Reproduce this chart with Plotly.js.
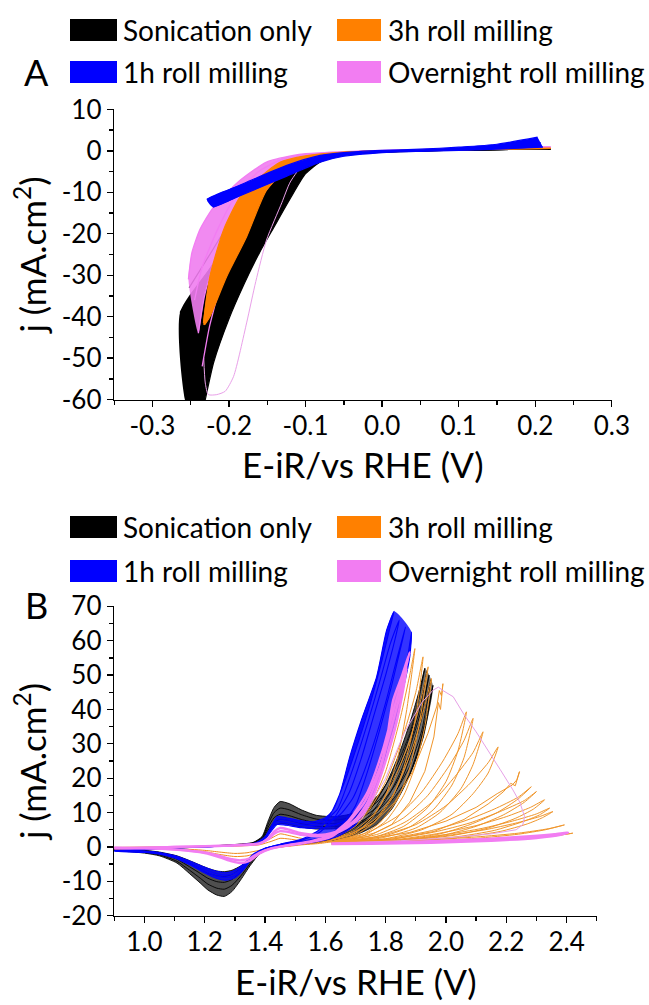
<!DOCTYPE html>
<html><head><meta charset="utf-8">
<script src="https://cdn.plot.ly/plotly-3.0.1.min.js"></script>
<style>html,body{margin:0;padding:0;background:#fff}</style>
</head><body><div id="chart" style="width:649px;height:1005px"></div>
<script>
// ---------------- Panel A : HER polarisation (E-iR vs RHE, j) ----------------
const seriesNames = ['Sonication only', '3h roll milling', '1h roll milling', 'Overnight roll milling'];

const aXTicks = [-0.3, -0.2, -0.1, 0.0, 0.1, 0.2, 0.3];
const aXLabels = ['-0.3', '-0.2', '-0.1', '0.0', '0.1', '0.2', '0.3'];
const aYTicks = [-60, -50, -40, -30, -20, -10, 0, 10];
const aYLabels = ['-60', '-50', '-40', '-30', '-20', '-10', '0', '10'];

// Sonication only (black) cycles
const herSonE = [
  [0.22,0.10,0.00,-0.05,-0.08,-0.10,-0.12,-0.14,-0.16,-0.18,-0.20,-0.22,-0.252],
  [0.22,0.10,0.00,-0.05,-0.08,-0.10,-0.12,-0.14,-0.16,-0.18,-0.20,-0.22,-0.264],
  [0.22,0.10,0.00,-0.05,-0.08,-0.10,-0.12,-0.14,-0.16,-0.18,-0.20,-0.22,-0.258],
  [0.22,0.10,0.00,-0.05,-0.08,-0.10,-0.12,-0.14,-0.16,-0.18,-0.20,-0.22,-0.255],
  [0.22,0.10,0.00,-0.05,-0.08,-0.10,-0.12,-0.14,-0.16,-0.18,-0.20,-0.22,-0.247],
  [0.22,0.10,0.00,-0.05,-0.08,-0.10,-0.12,-0.14,-0.16,-0.18,-0.20,-0.22,-0.231,-0.238]
];
const herSonJ = [
  [0.5,0.2,-0.1,-0.5,-1.2,-2.0,-3.5,-5.5,-8.5,-12.5,-17.5,-23.5,-33],
  [0.5,0.2,-0.1,-0.6,-1.4,-2.4,-4.2,-6.8,-10.5,-15,-20.5,-27,-39],
  [0.5,0.2,-0.15,-0.7,-1.7,-3.0,-5.5,-9,-13.5,-19,-25.5,-33,-48],
  [0.5,0.2,-0.2,-0.8,-2.0,-3.8,-7,-11.5,-17,-23.5,-31,-40,-62],
  [0.5,0.2,-0.25,-0.9,-2.3,-4.6,-8.5,-14,-20.5,-27.5,-36,-46,-64],
  [0.5,0.2,-0.3,-1.0,-2.6,-5.5,-11.5,-18,-24.5,-32,-40.5,-51,-60,-66]
];
// Overnight roll milling (pink) cycles
const herOvnE = [
  [0.22,0.10,0.00,-0.05,-0.10,-0.116,-0.151,-0.1855,-0.22,-0.238,-0.2486,-0.253],
  [0.22,0.10,0.00,-0.05,-0.10,-0.13,-0.16,-0.19,-0.215,-0.235,-0.245],
  [0.22,0.10,0.00,-0.05,-0.10,-0.13,-0.16,-0.19,-0.215,-0.232,-0.24],
  [0.22,0.10,0.00,-0.05,-0.10,-0.13,-0.16,-0.19,-0.21,-0.225,-0.235]
];
const herOvnJ = [
  [0.9,0.5,0.1,-0.2,-0.7,-1.1,-2.7,-7.1,-13.5,-19,-24.7,-31],
  [0.9,0.5,0.05,-0.3,-1.0,-2.0,-4.8,-10.5,-19,-28,-36],
  [0.9,0.5,0,-0.35,-1.3,-2.8,-6.5,-14,-24,-35,-44],
  [0.9,0.5,0,-0.4,-2,-5,-11.5,-22,-32,-42,-52]
];
const herOvnOutE = [0.22,0.10,0.00,-0.05,-0.08,-0.10,-0.12,-0.131,-0.151,-0.165,-0.177,-0.194,-0.205,-0.216,-0.227,-0.231,-0.233];
const herOvnOutJ = [0.9,0.5,0.0,-0.3,-1.2,-2.6,-7.5,-12.5,-21.5,-31.5,-41.5,-54.4,-58,-58.8,-58.8,-56,-50];
// 3h roll milling (orange) cycles
const her3hE = [
  [0.22,0.10,0.00,-0.05,-0.10,-0.133,-0.159,-0.1855,-0.207,-0.225,-0.2334],
  [0.22,0.10,0.00,-0.05,-0.10,-0.13,-0.155,-0.18,-0.205,-0.225,-0.233],
  [0.22,0.10,0.00,-0.05,-0.10,-0.125,-0.151,-0.177,-0.203,-0.225,-0.232]
];
const her3hJ = [
  [0.6,0.3,0,-0.3,-1.2,-2.7,-6.3,-11.1,-19,-30.3,-41.5],
  [0.6,0.3,0,-0.35,-1.5,-3.3,-7.5,-15,-25,-36,-42],
  [0.6,0.3,-0.05,-0.4,-2.0,-4.5,-9.5,-20.7,-30.3,-40,-42]
];
// 1h roll milling (blue) cycles
const her1hE = [
  [0.203,0.15,0.10,0.05,0.00,-0.05,-0.081,-0.1245,-0.18,-0.229],
  [0.207,0.15,0.10,0.05,0.00,-0.05,-0.081,-0.1245,-0.18,-0.225],
  [0.21,0.15,0.10,0.05,0.00,-0.05,-0.081,-0.1245,-0.18,-0.221]
];
const her1hJ = [
  [3.3,1.6,0.9,0.4,0.1,-0.4,-1.1,-3.5,-7.8,-11.7],
  [2.0,1.0,0.5,0.15,-0.15,-0.85,-1.9,-4.8,-9.1,-12.6],
  [0.9,0.4,0.1,-0.1,-0.4,-1.3,-2.7,-6.1,-10.4,-13.6]
];

// ---------------- Panel B : cyclic voltammetry ----------------
const bXTicks = [1.0, 1.2, 1.4, 1.6, 1.8, 2.0, 2.2, 2.4];
const bXLabels = ['1.0', '1.2', '1.4', '1.6', '1.8', '2.0', '2.2', '2.4'];
const bYTicks = [-20, -10, 0, 10, 20, 30, 40, 50, 60, 70];
const bYLabels = ['-20', '-10', '0', '10', '20', '30', '40', '50', '60', '70'];

// Sonication only (black) full cycles
const cvSonE = [
  [0.90,1.00,1.10,1.20,1.30,1.36,1.39,1.41,1.43,1.45,1.48,1.52,1.57,1.63,1.68,1.73,1.78,1.83,1.88,1.91,1.93,1.91,1.88,1.84,1.80,1.75,1.70,1.65,1.60,1.55,1.50,1.45,1.41,1.38,1.35,1.32,1.29,1.265,1.24,1.21,1.185,1.15,1.108,1.05,1.00,0.90],
  [0.90,1.00,1.10,1.20,1.30,1.36,1.39,1.41,1.43,1.45,1.48,1.52,1.57,1.63,1.68,1.73,1.78,1.83,1.88,1.91,1.937,1.92,1.89,1.85,1.80,1.75,1.70,1.65,1.60,1.55,1.50,1.45,1.41,1.38,1.35,1.32,1.29,1.265,1.24,1.21,1.185,1.15,1.108,1.05,1.00,0.90],
  [0.90,1.00,1.10,1.20,1.30,1.36,1.39,1.41,1.43,1.45,1.48,1.52,1.57,1.63,1.68,1.73,1.78,1.83,1.88,1.915,1.944,1.925,1.895,1.855,1.81,1.76,1.71,1.65,1.60,1.55,1.50,1.45,1.41,1.38,1.35,1.32,1.29,1.265,1.24,1.21,1.185,1.15,1.108,1.05,1.00,0.90],
  [0.90,1.00,1.10,1.20,1.30,1.36,1.39,1.41,1.43,1.45,1.48,1.52,1.57,1.63,1.68,1.73,1.78,1.83,1.88,1.92,1.95,1.93,1.90,1.86,1.82,1.77,1.72,1.66,1.60,1.55,1.50,1.45,1.41,1.38,1.35,1.32,1.29,1.265,1.24,1.21,1.185,1.15,1.108,1.05,1.00,0.90],
  [0.90,1.00,1.10,1.20,1.30,1.36,1.39,1.41,1.43,1.45,1.48,1.52,1.57,1.63,1.68,1.73,1.78,1.83,1.88,1.925,1.957,1.94,1.91,1.87,1.82,1.77,1.72,1.66,1.60,1.55,1.50,1.45,1.41,1.38,1.35,1.32,1.29,1.265,1.24,1.21,1.185,1.15,1.108,1.05,1.00,0.90]
];
const cvSonJ = [
  [-0.9,-0.5,-0.2,0.2,0.7,1.3,3.0,7.5,11.5,13.2,12.6,10.8,9.2,8.8,9.5,11.5,15.5,22.5,33,43,52,45,36,26,18,11,6.5,4,2.5,1.6,1.0,0.4,-0.6,-2.2,-5.5,-9.5,-13,-14.4,-14,-12.5,-10.5,-7.8,-4.7,-2.6,-1.8,-1.0],
  [-0.8,-0.45,-0.15,0.2,0.65,1.2,2.7,6.6,10,11.3,10.8,9.4,8.1,7.8,8.4,10.2,13.8,20,30,39,51,44,35,25,16,9.5,5.8,3.6,2.3,1.5,0.9,0.35,-0.55,-2,-4.9,-8.4,-11.2,-12.3,-12,-10.8,-9.1,-6.8,-4.2,-2.3,-1.6,-0.9],
  [-0.75,-0.42,-0.13,0.2,0.6,1.1,2.4,5.7,8.5,9.5,9.1,8.0,7.0,6.8,7.3,9.0,12.2,17.8,27,37,50,42,33,23,15,9,5.5,3.2,2.0,1.3,0.8,0.3,-0.5,-1.8,-4.3,-7.3,-9.5,-10.3,-10.1,-9.1,-7.7,-5.8,-3.6,-2.0,-1.4,-0.8],
  [-0.7,-0.4,-0.12,0.2,0.55,1.0,2.1,4.9,7.2,8.0,7.7,6.8,6.0,5.9,6.5,8.0,11,15.8,23.5,34,48.5,41,31,21,14,8.2,5.0,2.9,1.8,1.2,0.7,0.25,-0.45,-1.6,-3.8,-6.3,-8.0,-8.6,-8.4,-7.6,-6.4,-4.8,-3.0,-1.7,-1.2,-0.7],
  [-0.6,-0.35,-0.1,0.2,0.5,0.9,1.8,4.2,6.2,6.8,6.5,5.8,5.2,5.3,6.0,7.5,10,14.5,21,32,47,40,29,19,11,6.5,4.2,2.4,1.6,1.0,0.6,0.2,-0.4,-1.5,-3.5,-5.5,-6.8,-7.2,-7.0,-6.2,-5.3,-4.0,-2.6,-1.5,-1.0,-0.6]
];
// 1h roll milling (blue) full cycles
const cv1hE = [
  [0.90,1.00,1.10,1.20,1.30,1.37,1.40,1.42,1.44,1.47,1.52,1.56,1.60,1.626,1.65,1.681,1.72,1.77,1.803,1.828,1.815,1.79,1.75,1.70,1.66,1.62,1.58,1.52,1.45,1.40,1.36,1.33,1.30,1.27,1.24,1.20,1.15,1.10,1.05,1.00,0.90],
  [0.90,1.00,1.10,1.20,1.30,1.37,1.40,1.42,1.44,1.47,1.52,1.56,1.60,1.64,1.67,1.70,1.74,1.78,1.815,1.845,1.83,1.80,1.76,1.72,1.68,1.63,1.58,1.52,1.45,1.40,1.36,1.33,1.30,1.27,1.24,1.20,1.15,1.10,1.05,1.00,0.90],
  [0.90,1.00,1.10,1.20,1.30,1.37,1.40,1.42,1.44,1.47,1.52,1.56,1.60,1.65,1.69,1.72,1.76,1.80,1.835,1.866,1.85,1.82,1.78,1.74,1.70,1.65,1.60,1.52,1.45,1.40,1.36,1.33,1.30,1.27,1.24,1.20,1.15,1.10,1.05,1.00,0.90],
  [0.90,1.00,1.10,1.20,1.30,1.37,1.40,1.42,1.44,1.47,1.52,1.56,1.60,1.65,1.70,1.737,1.78,1.825,1.86,1.886,1.88,1.85,1.80,1.75,1.70,1.65,1.60,1.52,1.45,1.40,1.36,1.33,1.30,1.27,1.24,1.20,1.15,1.10,1.05,1.00,0.90]
];
const cv1hJ = [
  [-1.3,-0.8,-0.3,0.0,0.5,1.2,3.0,6.0,8.8,8.5,7.6,7.3,8.5,10.8,16,26.2,37,49.5,63,68.6,64,55,42,28,18,10,5,2.2,0.8,-0.5,-3,-6.5,-9,-9.7,-9.2,-7.6,-5.2,-3.2,-2.1,-1.6,-1.3],
  [-1.2,-0.75,-0.28,0.0,0.47,1.1,2.7,5.5,8.1,7.9,7.1,6.8,7.8,11,17.5,25,36,48,59,66,60,50,38,26,16,8.5,4.2,1.9,0.7,-0.45,-2.8,-6.1,-8.4,-8.9,-8.5,-7.1,-4.9,-3.0,-2.0,-1.5,-1.2],
  [-1.1,-0.7,-0.25,0.0,0.43,1.0,2.5,5.0,7.3,7.1,6.4,6.2,6.9,9.5,14,20,30,42,54,64,58,47,34,22,12,6,3,1.5,0.5,-0.4,-2.5,-5.6,-7.6,-8.2,-7.8,-6.5,-4.5,-2.8,-1.8,-1.4,-1.1],
  [-1.0,-0.6,-0.2,0.0,0.4,0.9,2.2,4.5,6.5,6.3,5.6,5.4,5.8,7.0,8.8,10.8,20,35.9,48,62.5,55.3,43,27,14,6.5,3.5,2,0.9,0.3,-0.4,-2.2,-4.9,-6.8,-7.5,-7.1,-5.9,-4.1,-2.5,-1.6,-1.2,-1.0]
];
// 3h roll milling (orange): redox cycles and OER loops
const cv3hRedoxE = [
  [0.90,1.00,1.10,1.20,1.30,1.38,1.42,1.45,1.48,1.52,1.58,1.62,1.58,1.52,1.48,1.42,1.38,1.34,1.30,1.25,1.20,1.10,1.00,0.90],
  [0.90,1.00,1.10,1.20,1.30,1.38,1.42,1.45,1.48,1.52,1.58,1.62,1.58,1.52,1.48,1.42,1.38,1.34,1.30,1.25,1.20,1.10,1.00,0.90]
];
const cv3hRedoxJ = [
  [-0.2,-0.1,0,0.1,0.3,0.8,2.5,3.8,3.3,2.5,2.0,2.0,1.3,0.8,0.3,-0.5,-1.6,-2.6,-2.8,-2.2,-1.4,-0.6,-0.3,-0.2],
  [-0.15,-0.08,0,0.1,0.25,0.6,1.6,2.5,2.3,1.8,1.5,1.5,1.0,0.6,0.2,-0.3,-1.0,-1.7,-1.9,-1.5,-1.0,-0.45,-0.2,-0.15]
];
const cv3hOerE = [
  [1.60,1.70,1.76,1.80,1.84,1.87,1.897,1.88,1.85,1.80,1.75,1.70,1.62],
  [1.62,1.70,1.76,1.82,1.86,1.90,1.924,1.90,1.86,1.80,1.74,1.68,1.62],
  [1.62,1.72,1.78,1.84,1.88,1.91,1.941,1.92,1.88,1.82,1.76,1.70,1.62],
  [1.62,1.72,1.80,1.86,1.90,1.93,1.952,1.93,1.89,1.83,1.77,1.70,1.62],
  [1.62,1.74,1.82,1.88,1.93,1.96,1.975,1.982,1.99,1.985,1.978,1.97,1.94,1.89,1.83,1.76,1.68,1.62],
  [1.62,1.76,1.86,1.94,2.00,2.04,2.068,2.04,1.99,1.92,1.84,1.74,1.64],
  [1.62,1.78,1.88,1.96,2.02,2.06,2.09,2.06,2.01,1.94,1.86,1.76,1.64],
  [1.62,1.78,1.90,1.98,2.05,2.09,2.123,2.09,2.03,1.96,1.87,1.77,1.64],
  [1.62,1.80,1.92,2.02,2.09,2.14,2.173,2.14,2.08,2.00,1.90,1.78,1.64],
  [1.62,1.82,1.96,2.06,2.14,2.19,2.215,2.23,2.244,2.235,2.22,2.17,2.10,2.00,1.88,1.74,1.64],
  [1.62,1.84,1.98,2.08,2.17,2.24,2.283,2.24,2.16,2.06,1.94,1.80,1.64],
  [1.62,1.86,2.00,2.10,2.19,2.26,2.30,2.26,2.18,2.08,1.96,1.82,1.64],
  [1.62,1.86,2.02,2.14,2.23,2.29,2.327,2.28,2.20,2.10,1.98,1.84,1.64],
  [1.62,1.88,2.04,2.16,2.25,2.31,2.344,2.30,2.22,2.12,2.00,1.86,1.64],
  [1.62,1.90,2.06,2.18,2.27,2.32,2.355,2.31,2.23,2.13,2.01,1.87,1.64],
  [1.62,1.92,2.10,2.24,2.33,2.393,2.34,2.24,2.10,1.92,1.64],
  [1.62,1.94,2.14,2.28,2.37,2.421,2.36,2.24,2.08,1.90,1.64]
];
const cv3hOerJ = [
  [1.5,4,9,15,26,40,57.7,50,38,22,12,6,2.5],
  [1.5,3.5,7,14,23,38,55.3,45,33,19,10,5,2.5],
  [1.5,3.5,7,14,23,35,52.4,44,31,18,9.5,5,2.2],
  [1.4,3,7.5,15,24,35,49,41,29,16,8.5,4.5,2],
  [1.3,3,6.5,13,22,32,42,40,47.5,44,45.5,41,33,22,13,7,3.5,2],
  [1.2,2.8,6,11.5,19,28,39.3,33,25,16,9,4.2,2],
  [1.2,2.8,5.8,11,18,26,37.4,31,23.5,15,8.5,4,1.8],
  [1.2,2.5,5.5,10,17,24,33.5,27.5,20.5,13.5,7.5,3.6,1.8],
  [1.1,2.4,5,9.5,15.5,21.5,29.1,24.5,18.5,12,6.5,3.2,1.6],
  [1.1,2.2,4.5,8,12.5,16,18.5,17.8,21.9,19.5,18,15.5,11.5,7.5,4.2,2.3,1.5],
  [1.0,2.0,3.8,6.5,10,14,17.5,14.5,11,7.5,4.5,2.3,1.4],
  [1.0,2.0,3.6,6,9.3,13,16.1,13.5,10.3,7,4.3,2.3,1.4],
  [1.0,1.9,3.3,5.5,8.3,11,13.7,11.5,8.8,6.2,4,2.2,1.3],
  [1.0,1.8,3,4.8,7.2,9.3,11.3,9.6,7.5,5.4,3.6,2.1,1.3],
  [1.0,1.8,2.9,4.5,6.7,8.5,10.3,8.8,6.9,5,3.4,2.0,1.3],
  [0.9,1.6,2.5,3.7,5,6.4,5.3,4,2.9,1.9,1.2],
  [0.8,1.3,2,2.8,3.4,4.0,3.2,2.5,1.9,1.4,1.0]
];
// Overnight roll milling (pink)
const cvOvnE = [
  [0.90,1.00,1.10,1.20,1.30,1.38,1.41,1.43,1.45,1.48,1.52,1.58,1.62,1.66,1.70,1.74,1.78,1.80,1.825,1.855,1.88,1.86,1.83,1.79,1.74,1.68,1.62,1.55,1.48,1.42,1.38,1.35,1.32,1.29,1.25,1.20,1.10,1.00,0.90],
  [0.90,1.00,1.10,1.20,1.30,1.38,1.41,1.43,1.45,1.48,1.52,1.58,1.62,1.67,1.72,1.76,1.80,1.83,1.85,1.87,1.85,1.82,1.78,1.73,1.67,1.62,1.55,1.48,1.42,1.38,1.35,1.32,1.29,1.25,1.20,1.10,1.00,0.90],
  [1.62,1.80,2.00,2.15,2.28,2.36,2.405,2.38,2.30,2.15,1.95,1.75,1.62]
];
const cvOvnJ = [
  [-0.5,-0.3,0,0.2,0.5,1.0,2.5,4.5,5.5,5.0,4.0,3.5,4.0,5.5,8,13,22,29,42.7,50,56.7,50,41,28,16,8,3.5,1.6,0.6,-0.5,-2,-4,-4.7,-4.2,-3,-1.8,-0.8,-0.4,-0.3],
  [-0.45,-0.25,0,0.2,0.45,0.9,2.2,3.8,4.6,4.3,3.5,3.1,3.6,5.5,9,15,25,34,42,52,45,35,23,13,6.5,3,1.4,0.5,-0.4,-1.7,-3.3,-3.9,-3.6,-2.6,-1.6,-0.7,-0.35,-0.25],
  [1.0,1.3,1.8,2.4,3.1,3.7,4.2,3.5,2.6,1.8,1.2,0.9,0.8]
];
const cvOvnOutE = [1.62,1.72,1.80,1.86,1.92,1.957,1.975,1.99,2.024,2.06,2.10,2.133,2.18,2.222,2.245,2.261,2.255,2.233,2.15,2.00,1.85,1.62];
const cvOvnOutJ = [3,8,20,33,42,45.6,46.5,45.5,43.7,38.5,33.5,29.1,22.5,16.6,13,8.8,6.5,5,3.8,2.6,1.8,1.0];

// ---------------- drawing ----------------
const FONT = 'Lato, "Open Sans", "DejaVu Sans", sans-serif';
const W = 649, H = 1005;
const px = v => v / W, py = v => 1 - v / H;
const COL = {black: '#000000', orange: '#ff8000', blue: '#0000ff', pink: '#f27df2'};
const rev = a => a.slice().reverse();
const traces = [];
function ax(p) { return p === 'A' ? {xaxis: 'x', yaxis: 'y'} : {xaxis: 'x2', yaxis: 'y2'}; }
function addLine(p, E, J, color, width, shape) {
  traces.push(Object.assign({type: 'scatter', mode: 'lines', x: E, y: J,
    line: {color: color, width: width, shape: shape || 'spline', smoothing: 0.6},
    hoverinfo: 'skip', showlegend: false}, ax(p)));
}
function addBand(p, E, J, fill) {
  traces.push(Object.assign({type: 'scatter', mode: 'lines', x: E, y: J, fill: 'toself', fillcolor: fill,
    line: {width: 0, shape: 'spline', smoothing: 0.6}, hoverinfo: 'skip', showlegend: false}, ax(p)));
}
// band between the forward (anodic) OER branches of two cycles, up to their vertex
function oerBand(E, J, a, b, from, fill) {
  const va = J[a].indexOf(Math.max.apply(null, J[a])), vb = J[b].indexOf(Math.max.apply(null, J[b]));
  addBand('B', E[a].slice(from, va + 1).concat(rev(E[b].slice(from, vb + 1))),
               J[a].slice(from, va + 1).concat(rev(J[b].slice(from, vb + 1))), fill);
}

// Panel A
addBand('A', herSonE[5].concat([herSonE[3][herSonE[3].length - 1]], rev(herSonE[1])),
             herSonJ[5].concat([herSonJ[3][herSonJ[3].length - 1]], rev(herSonJ[1])), COL.black);
herSonE.forEach((e, i) => addLine('A', e, herSonJ[i], COL.black, 1.2));
addLine('A', herOvnOutE, herOvnOutJ, '#e9a0e9', 1);
addBand('A', herOvnE[0].concat(rev(herOvnE[2])), herOvnJ[0].concat(rev(herOvnJ[2])), 'rgba(240,125,240,0.9)');
herOvnE.forEach((e, i) => addLine('A', e, herOvnJ[i], COL.pink, 1.3));
addBand('A', her3hE[0].concat(rev(her3hE[2])), her3hJ[0].concat(rev(her3hJ[2])), COL.orange);
her3hE.forEach((e, i) => addLine('A', e, her3hJ[i], COL.orange, 1.2));
addBand('A', her1hE[0].concat(rev(her1hE[2])), her1hJ[0].concat(rev(her1hJ[2])), COL.blue);
her1hE.forEach((e, i) => addLine('A', e, her1hJ[i], COL.blue, 1.2));

// Panel B
addBand('B', cvSonE[0].concat(rev(cvSonE[4])), cvSonJ[0].concat(rev(cvSonJ[4])), 'rgba(20,20,20,0.75)');
oerBand(cvSonE, cvSonJ, 0, 4, 13, 'rgba(20,20,20,0.6)');
cvSonE.forEach((e, i) => addLine('B', e, cvSonJ[i], COL.black, 0.9));
cv3hRedoxE.forEach((e, i) => addLine('B', e, cv3hRedoxJ[i], '#f08a1c', 1));
cv3hOerE.forEach((e, i) => addLine('B', e, cv3hOerJ[i], '#f0952a', 1, (i === 4 || i === 9) ? 'linear' : 'spline'));
addBand('B', cv1hE[0].concat(rev(cv1hE[3])), cv1hJ[0].concat(rev(cv1hJ[3])), 'rgba(0,0,255,0.75)');
oerBand(cv1hE, cv1hJ, 0, 3, 12, 'rgba(0,0,255,0.8)');
cv1hE.forEach((e, i) => addLine('B', e, cv1hJ[i], COL.blue, 1.1));
addLine('B', cvOvnOutE, cvOvnOutJ, '#e6a0e6', 1, 'linear');
oerBand(cvOvnE, cvOvnJ, 0, 1, 12, 'rgba(242,125,242,0.8)');
cvOvnE.forEach((e, i) => addLine('B', e, cvOvnJ[i], COL.pink, 2.4));

const axisBase = {
  showline: true, linecolor: '#000', linewidth: 1.3, mirror: false,
  ticks: 'outside', ticklen: 6, tickwidth: 1.3, tickcolor: '#000',
  showgrid: false, zeroline: false, tickmode: 'array',
  tickfont: {family: FONT, size: 26, color: '#000'},
  automargin: false
};
const minorBase = {ticks: 'outside', ticklen: 3.5, tickwidth: 1.3, tickcolor: '#000', showgrid: false, tickmode: 'linear'};
const titleFont = {family: FONT, size: 35, color: '#000'};
const xTitleText = 'E-iR/vs RHE (V)';
const yTitleText = 'j (mA.cm<sup>2</sup>)';

const layout = {
  width: W, height: H, margin: {l: 0, r: 0, t: 0, b: 0},
  paper_bgcolor: '#fff', plot_bgcolor: 'rgba(0,0,0,0)',
  font: {family: FONT, color: '#000'}, showlegend: false,
  xaxis: Object.assign({}, axisBase, {domain: [px(114), px(612)], range: [-0.3502, 0.3002], anchor: 'y',
    tickvals: aXTicks, ticktext: aXLabels, ticklabelstandoff: -4,
    minor: Object.assign({}, minorBase, {tick0: 0, dtick: 0.05})}),
  yaxis: Object.assign({}, axisBase, {domain: [py(400), py(109)], range: [-60.1, 10.1], anchor: 'x',
    tickvals: aYTicks, ticktext: aYLabels,
    minor: Object.assign({}, minorBase, {tick0: 0, dtick: 5}),
    title: {text: yTitleText, font: titleFont, standoff: 4}}),
  xaxis2: Object.assign({}, axisBase, {domain: [px(114), px(597)], range: [0.899, 2.501], anchor: 'y2',
    tickvals: bXTicks, ticktext: bXLabels, ticklabelstandoff: -4,
    minor: Object.assign({}, minorBase, {tick0: 0, dtick: 0.1})}),
  yaxis2: Object.assign({}, axisBase, {domain: [py(916), py(606)], range: [-20.1, 70.1], anchor: 'x2',
    tickvals: bYTicks, ticktext: bYLabels,
    minor: Object.assign({}, minorBase, {tick0: 0, dtick: 5}),
    title: {text: yTitleText, font: titleFont, standoff: 4}}),
  shapes: [], annotations: []
};

// x-axis titles placed under each panel
layout.annotations.push({xref: 'paper', yref: 'paper', x: px((114 + 612) / 2), y: py(464), text: xTitleText,
  showarrow: false, xanchor: 'center', yanchor: 'middle', font: titleFont});
layout.annotations.push({xref: 'paper', yref: 'paper', x: px((114 + 597) / 2), y: py(981), text: xTitleText,
  showarrow: false, xanchor: 'center', yanchor: 'middle', font: titleFont});

// legends (two rows x two columns) and panel letters
const legendColors = [COL.black, COL.orange, COL.blue, COL.pink];
function addLegend(rowY) {
  const cols = [[70, 117, 121], [337, 381, 386]];
  seriesNames.forEach((name, i) => {
    const c = cols[i % 2], yc = rowY[Math.floor(i / 2)];
    layout.shapes.push({type: 'rect', xref: 'paper', yref: 'paper', x0: px(c[0]), x1: px(c[1]),
      y0: py(yc + 11), y1: py(yc - 11), fillcolor: legendColors[i], line: {width: 0}});
    layout.annotations.push({xref: 'paper', yref: 'paper', x: px(c[2]), y: py(yc), text: name, showarrow: false,
      xanchor: 'left', yanchor: 'middle', font: {family: FONT, size: 28, color: '#000'}});
  });
}
addLegend([30, 72]);
addLegend([527, 571]);
layout.annotations.push({xref: 'paper', yref: 'paper', x: px(36), y: py(72), text: 'A', showarrow: false,
  xanchor: 'center', yanchor: 'middle', font: {family: FONT, size: 36, color: '#000'}});
layout.annotations.push({xref: 'paper', yref: 'paper', x: px(36), y: py(605), text: 'B', showarrow: false,
  xanchor: 'center', yanchor: 'middle', font: {family: FONT, size: 36, color: '#000'}});

Plotly.newPlot('chart', traces, layout, {displayModeBar: false, staticPlot: true});
</script></body></html>
